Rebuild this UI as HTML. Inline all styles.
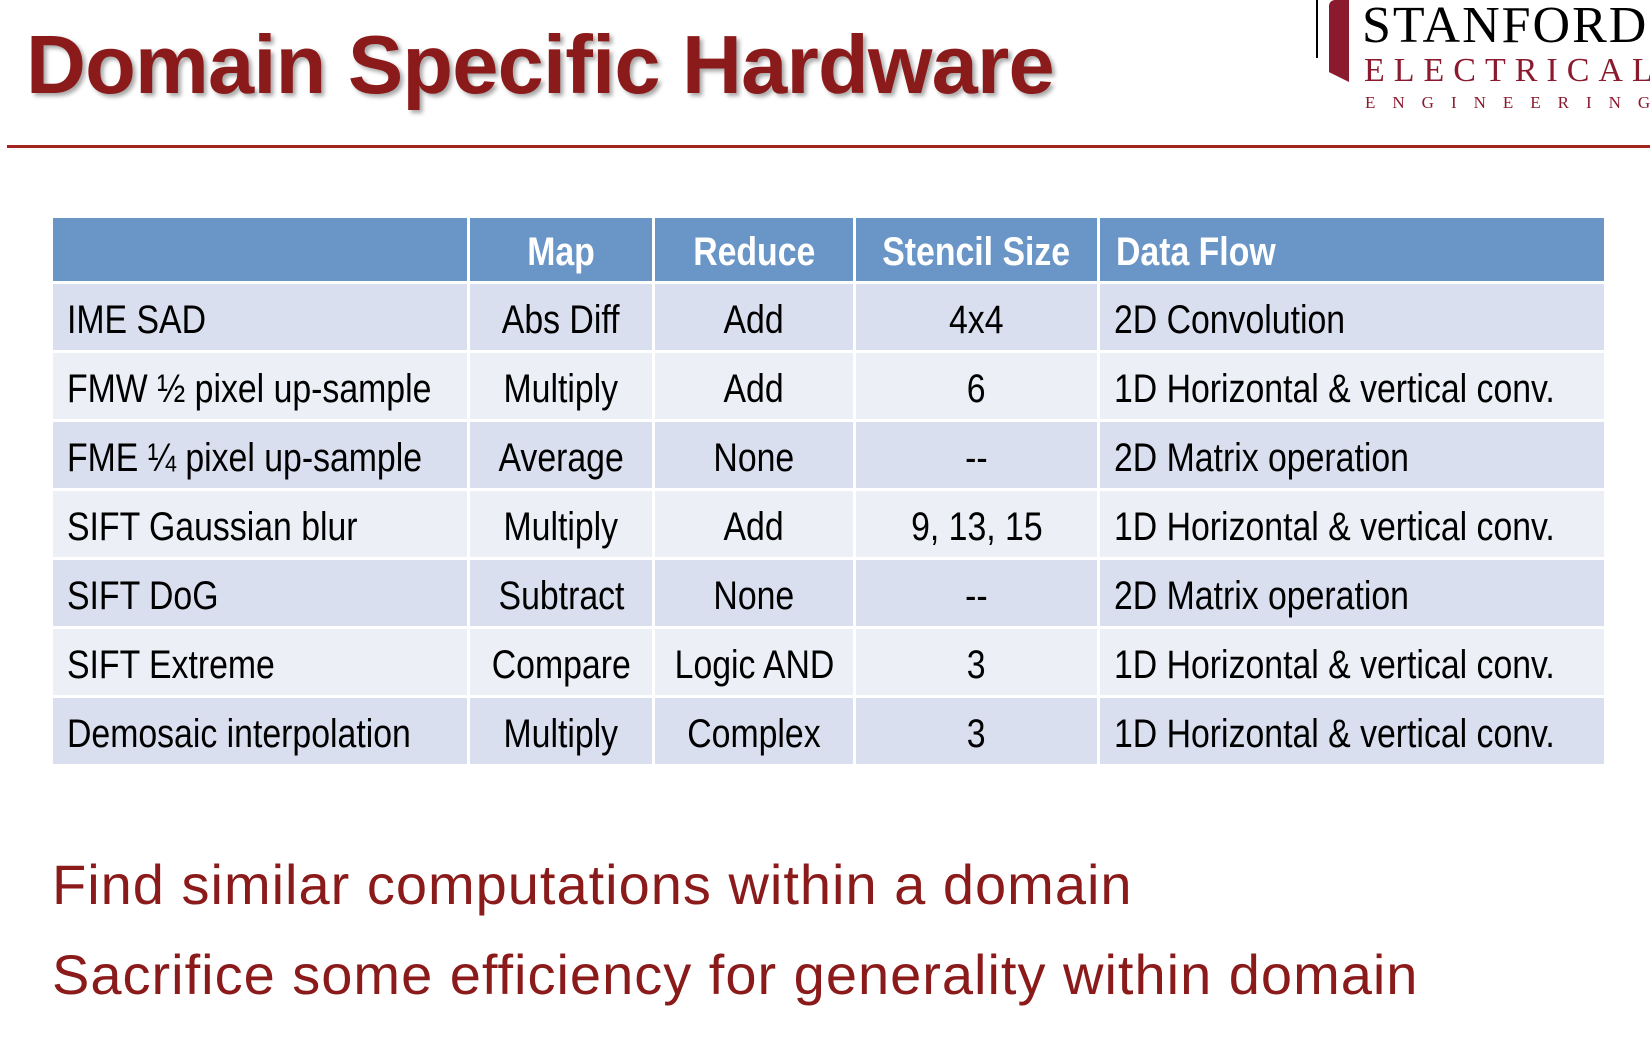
<!DOCTYPE html>
<html><head><meta charset="utf-8"><style>
body{margin:0;width:1650px;height:1046px;background:#fff;position:relative;overflow:hidden;font-family:"Liberation Sans",sans-serif}
.t{position:absolute;left:26px;top:17px;font-size:83px;font-weight:bold;color:#8b1a1a;letter-spacing:-0.8px;text-shadow:3px 3px 4px rgba(0,0,0,0.35);white-space:nowrap}
.line{position:absolute;left:7px;top:145px;width:1643px;height:3px;background:#a3231f}
table{position:absolute;left:50px;top:215px;border-collapse:collapse;table-layout:fixed;width:1554px;font-size:40px}
td{border:3px solid #fff;padding:6px 0 0 0;height:60px;text-align:center;color:#000;background:#d9dfee;white-space:nowrap;overflow:visible}
tr:nth-child(odd) td{background:#eceff6}
tr.h td{background:#6a95c7;color:#fff;font-weight:bold;height:58px;padding-top:5px}
td span{display:inline-block;transform:scaleX(0.845);transform-origin:center}
td.f span,tr.h td.l span{transform-origin:left center}
tr.h td.l{text-align:left;padding-left:16px}
td.f{text-align:left;padding-left:14px}
.b{position:absolute;left:52px;font-size:56px;color:#8b1a1a;white-space:nowrap;letter-spacing:1px}
</style></head><body>
<div class="t">Domain Specific Hardware</div>
<div style="position:absolute;left:1316px;top:0;width:2px;height:58px;background:#000"></div>
<div style="position:absolute;left:1329px;top:0;width:20px;height:82px;background:#8b1a2e;clip-path:polygon(0 0,100% 0,100% 100%,0 88%);border-top-left-radius:6px"></div>
<div style="position:absolute;left:1362px;top:-4px;font-family:'Liberation Serif',serif;font-size:52px;color:#000;letter-spacing:2px;white-space:nowrap">STANFORD</div>
<div style="position:absolute;left:1364px;top:52px;font-family:'Liberation Serif',serif;font-size:34px;color:#8b1a2e;letter-spacing:9px;white-space:nowrap">ELECTRICAL</div>
<div style="position:absolute;left:1365px;top:93px;font-family:'Liberation Serif',serif;font-size:17px;color:#8b1a2e;letter-spacing:17px;white-space:nowrap">ENGINEERING</div>
<div class="line"></div>
<table>
<colgroup><col style="width:417px"><col style="width:185px"><col style="width:201px"><col style="width:244px"><col style="width:507px"></colgroup>
<tr class="h"><td></td><td><span>Map</span></td><td><span>Reduce</span></td><td><span>Stencil Size</span></td><td class="l"><span>Data Flow</span></td></tr>
<tr><td class="f"><span>IME SAD</span></td><td><span>Abs Diff</span></td><td><span>Add</span></td><td><span>4x4</span></td><td class="f"><span>2D Convolution</span></td></tr>
<tr><td class="f"><span>FMW ½ pixel up-sample</span></td><td><span>Multiply</span></td><td><span>Add</span></td><td><span>6</span></td><td class="f"><span>1D Horizontal &amp; vertical conv.</span></td></tr>
<tr><td class="f"><span>FME ¼ pixel up-sample</span></td><td><span>Average</span></td><td><span>None</span></td><td><span>--</span></td><td class="f"><span>2D Matrix operation</span></td></tr>
<tr><td class="f"><span>SIFT Gaussian blur</span></td><td><span>Multiply</span></td><td><span>Add</span></td><td><span>9, 13, 15</span></td><td class="f"><span>1D Horizontal &amp; vertical conv.</span></td></tr>
<tr><td class="f"><span>SIFT DoG</span></td><td><span>Subtract</span></td><td><span>None</span></td><td><span>--</span></td><td class="f"><span>2D Matrix operation</span></td></tr>
<tr><td class="f"><span>SIFT Extreme</span></td><td><span>Compare</span></td><td><span>Logic AND</span></td><td><span>3</span></td><td class="f"><span>1D Horizontal &amp; vertical conv.</span></td></tr>
<tr><td class="f"><span>Demosaic interpolation</span></td><td><span>Multiply</span></td><td><span>Complex</span></td><td><span>3</span></td><td class="f"><span>1D Horizontal &amp; vertical conv.</span></td></tr>
</table>
<div class="b" style="top:852px">Find similar computations within a domain</div>
<div class="b" style="top:942px">Sacrifice some efficiency for generality within domain</div>
</body></html>
